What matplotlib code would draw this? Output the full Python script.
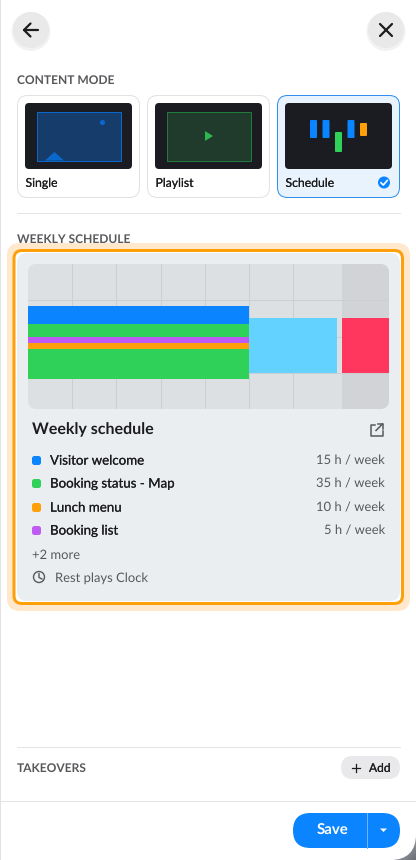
#!/usr/bin/env python
# Content mode panel with the weekly schedule preview

import numpy as np
import matplotlib
matplotlib.use("Agg")
import matplotlib.pyplot as plt
import matplotlib.patheffects as pe
from matplotlib.colors import LinearSegmentedColormap
from matplotlib.patches import FancyBboxPatch, Rectangle, Circle, Polygon

plt.rcParams['font.family'] = ['Lato', 'Noto Sans', 'DejaVu Sans']
plt.rcParams['text.hinting'] = 'no_hinting'
plt.rcParams['text.hinting_factor'] = 1

# schedule blocks: day offset, length in days, start hour, length in hours
block_day = [0, 0, 0, 0, 0, 5, 7.1]
block_days = [5, 5, 5, 5, 5, 2, 1.07]
block_hour = [7, 10, 12, 13, 14, 9, 9]
block_hours = [3, 2, 1, 1, 5, 9, 9]
block_colors = ['#0a84ff', '#30d158', '#bf5af2', '#ff9f0a', '#30d158', '#64d2ff', '#ff375f']

# legend of the card
legend_names = ['Visitor welcome', 'Booking status - Map', 'Lunch menu', 'Booking list']
legend_hours = [15, 35, 10, 5]
legend_colors = ['#0a84ff', '#30d158', '#ff9f0a', '#bf5af2']
legend_y = [460.5, 483.5, 507.5, 530.5]

mode_names = ['Single', 'Playlist', 'Schedule']

# little bars on the schedule thumbnail
thumb_col = [0, 1, 2, 3, 4]
thumb_top = [0, 0, 12, 0, 3]
thumb_len = [18, 18, 20, 18, 13]
thumb_colors = ['#0a84ff', '#0a84ff', '#30d158', '#0a84ff', '#ff9f0a']

TEXT = '#1c1c1e'
GREY = '#58585c'
HAIR = 0.72


def rbox(ax, x0, y0, x1, y1, r, **kw):
    p = FancyBboxPatch((x0 + r, y0 + r), x1 - x0 - 2 * r, y1 - y0 - 2 * r,
                       boxstyle='round,pad=%f,rounding_size=%f' % (r, r), **kw)
    ax.add_patch(p)
    return p


def txt(ax, x, y, s, px, color=TEXT, weight='normal', ha='left', stroke=0, **kw):
    t = ax.text(x, y, s, fontsize=px * 0.72, color=color, fontweight=weight, ha=ha, va='center', **kw)
    if stroke:
        t.set_path_effects([pe.withStroke(linewidth=stroke, foreground=color)])
    return t


def corner(ax, extent, c0, c1):
    # diagonal shade behind the rounded panel corner
    g = np.add.outer(np.linspace(0, 1, 20), np.linspace(0, 1, 20)) / 2
    cmap = LinearSegmentedColormap.from_list('corner', [c0, c1])
    ax.imshow(g, extent=extent, cmap=cmap, aspect='auto', origin='upper', zorder=0.5)


fig = plt.figure(figsize=(4.16, 8.6), dpi=100, facecolor='#ffffff')
ax = fig.add_axes([0, 0, 1, 1])
ax.axis('off')

# backdrop corners and the panel
ax.add_patch(Rectangle((0, 0), 416, 860, fc='#e2e2e4', ec='none', zorder=0))
corner(ax, (386, 416, 32, 0), '#9a86c0', '#5c4a8c')
corner(ax, (386, 416, 860, 830), '#d8d8dc', '#6e7078')
ax.set_xlim(0, 416)
ax.set_ylim(860, 0)
rbox(ax, 1, -40, 416, 860, 30, fc='white', ec='none')
rbox(ax, 1, 100, 416, 860, 26, fc='white', ec='none')
ax.add_patch(Rectangle((1, -2), 300, 864, fc='white', ec='none'))

# round header buttons
for cx in (31, 386):
    ax.add_patch(Circle((cx, 31.5), 19.5, fc='#f2f2f2', ec='none'))
    ax.add_patch(Circle((cx, 30), 18, fc='#e9e9e9', ec='none'))
ax.plot([24, 38], [30, 30], color=TEXT, lw=1.6, solid_capstyle='round')
ax.plot([30.5, 24, 30.5], [23.5, 30, 36.5], color=TEXT, lw=1.6, solid_capstyle='round')
ax.plot([380, 392], [24, 36], color=TEXT, lw=1.6, solid_capstyle='round')
ax.plot([392, 380], [24, 36], color=TEXT, lw=1.6, solid_capstyle='round')

# section heads
txt(ax, 17, 80.5, 'CONTENT MODE', 12.3, GREY, 'bold')
txt(ax, 17, 239.5, 'WEEKLY SCHEDULE', 12.1, GREY, 'bold')
txt(ax, 17, 768.5, 'TAKEOVERS', 12.1, GREY, 'bold')

# mode cards
card_x = [17, 147, 277]
for i, name in enumerate(mode_names):
    x = card_x[i]
    sel = name == 'Schedule'
    rbox(ax, x + 0.5, 95.5, x + 122.5, 197.5, 10,
         fc='#e8f3fe' if sel else 'white', ec='#2f8ff0' if sel else '#e2e2e4', lw=HAIR)
    rbox(ax, x + 8, 103, x + 115, 169, 4, fc='#1a1c22', ec='none')
    txt(ax, x + 8.5, 183.5, name, 12.2, stroke=0.1)

ax.add_patch(Rectangle((36.5, 111.5), 84, 49, fc='#153c6a', ec='#0a68cc', lw=HAIR))
ax.add_patch(Circle((102.5, 122.5), 2.6, fc='#0a68cc', ec='none'))
ax.add_patch(Polygon([[45, 160.5], [54.5, 152], [64, 160.5]], fc='#0a68cc', ec='none'))
ax.add_patch(Rectangle((166.5, 111.5), 84, 49, fc='#203a2c', ec='#1f7a3c', lw=HAIR))
ax.add_patch(Polygon([[205, 131], [213, 136], [205, 141]], fc='#2cb84e', ec='none'))
for col, top, ln, c in zip(thumb_col, thumb_top, thumb_len, thumb_colors):
    x0 = 310 + col * 12.5
    rbox(ax, x0, 120 + top, x0 + 7, 120 + top + ln, 1, fc=c, ec='none')
ax.add_patch(Circle((384, 182.5), 6, fc='#0a84ff', ec='none'))
ax.plot([381, 383.3, 387.2], [182.8, 185, 180.5], color='white', lw=1.2)

ax.plot([17, 400], [212.5, 212.5], color='#e4e4e6', lw=HAIR)

# highlighted schedule card
rbox(ax, 7, 243, 410, 611, 13, fc='#ffe8cc', ec='none')
rbox(ax, 14, 250.5, 402.5, 603.5, 8, fc='white', ec='#ff9f0a', lw=2.16)
rbox(ax, 17, 253, 400, 601, 10, fc='#ebeef1', ec='none')
clip = rbox(ax, 28, 264, 389, 409, 9, fc='#dce0e3', ec='none')

# schedule chart, x in days and y in hours
sax = fig.add_axes([28 / 416, 1 - 409 / 860, 361 / 416, 145 / 860])
sax.set_xlim(0, 8.17)
sax.set_ylim(24, 0)
sax.axis('off')
sax.axvspan(0, 7.1, color='#dce0e3', lw=0, zorder=0)
sax.axvspan(7.1, 8.17, color='#d2d3d7', lw=0, zorder=0)
for d in range(1, 7):
    sax.axvline(d, color='#cbcfd3', lw=HAIR, zorder=1)
for h in (6, 12, 18):
    sax.axhline(h, color='#cbcfd3', lw=HAIR, zorder=1)
for d, dn, h, hn, c in zip(block_day, block_days, block_hour, block_hours, block_colors):
    sax.barh(h + hn / 2, dn, height=hn, left=d, color=c, lw=0, zorder=2)
for art in sax.get_children():
    art.set_clip_path(clip)

# card title and legend
txt(ax, 32, 430, 'Weekly schedule', 16, TEXT, 'bold')
ax.plot([375, 370.5, 370.5, 382.5, 382.5], [424.5, 424.5, 436, 436, 431], color=GREY, lw=1.1)
ax.plot([376, 382.5], [430.5, 424], color=GREY, lw=1.1)
ax.plot([378, 382.5, 382.5], [424, 424, 428.5], color=GREY, lw=1.1)
for name, hours, c, y in zip(legend_names, legend_hours, legend_colors, legend_y):
    rbox(ax, 32, y - 4.5, 41, y + 4.5, 2.5, fc=c, ec='none')
    txt(ax, 50, y + 0.5, name, 13.3, TEXT, stroke=0.12)
    txt(ax, 385, y + 0.5, '%d h / week' % hours, 12.8, GREY, ha='right')
txt(ax, 32, 555, '+2 more', 12.8, GREY)
ax.add_patch(Circle((39, 577), 5.5, fc='none', ec=GREY, lw=1.0))
ax.plot([39, 39, 42], [573.5, 577.5, 579], color=GREY, lw=1.0)
txt(ax, 55, 578, 'Rest plays Clock', 13, GREY)

# takeovers row
ax.plot([17, 400], [746.5, 746.5], color='#e4e4e6', lw=HAIR)
rbox(ax, 341, 756, 400, 779, 11.5, fc='#e9e9eb', ec='none')
ax.plot([352, 360], [767.5, 767.5], color=TEXT, lw=0.9)
ax.plot([356, 356], [763.5, 771.5], color=TEXT, lw=0.9)
txt(ax, 369, 768.5, 'Add', 12, TEXT, stroke=0.1)

# footer
ax.plot([1, 416], [800.5, 800.5], color='#e4e4e6', lw=HAIR)
rbox(ax, 293, 813, 400, 848, 17.5, fc='#0a84ff', ec='none')
ax.plot([366.5, 366.5], [813, 848], color='#6db6ff', lw=HAIR)
txt(ax, 333, 830.5, 'Save', 14.5, 'white', 'bold', ha='center')
ax.add_patch(Polygon([[380, 828.5], [387, 828.5], [383.5, 832]], fc='white', ec='none'))

fig.savefig('out.png', dpi=100)
